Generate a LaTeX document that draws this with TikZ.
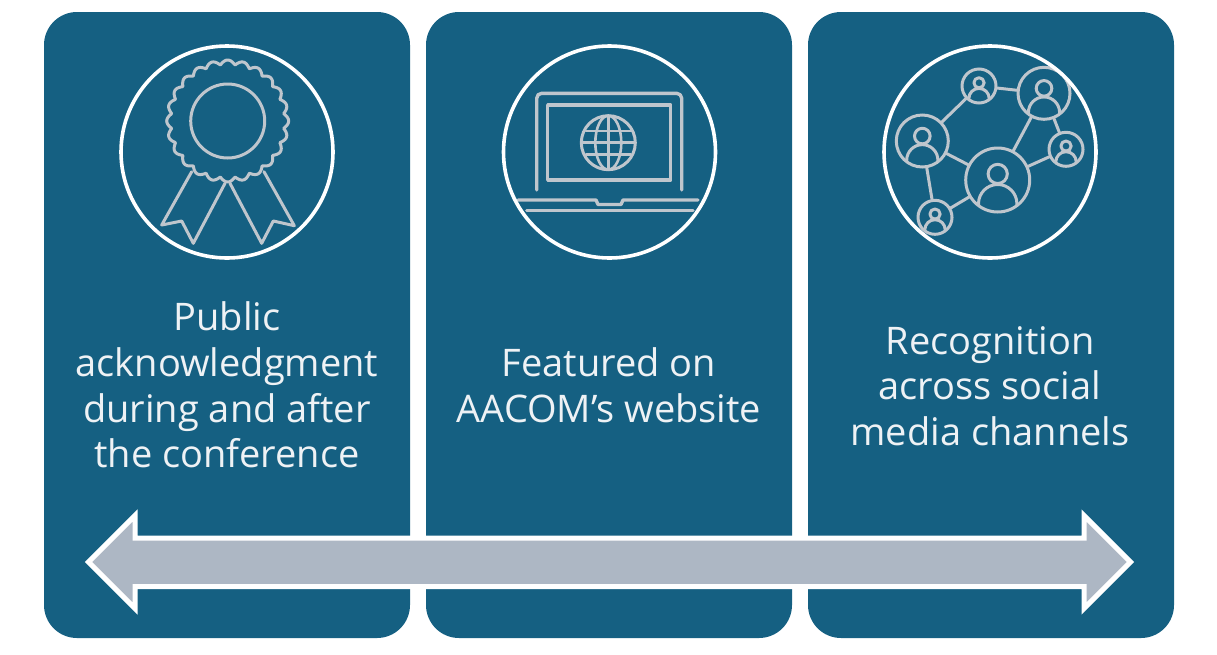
\documentclass[tikz,border=0pt]{standalone}
\usepackage{fontspec}
\setmainfont{Open Sans}
\definecolor{panelblue}{HTML}{156082}
\definecolor{arrowgrey}{HTML}{ADB7C4}
\definecolor{icongrey}{HTML}{BFC6CD}
\definecolor{labelwhite}{HTML}{EEF2F5}
\newcommand{\personicon}[3]{%
  \begin{scope}
    \clip (#1,#2) circle[radius=#3];
    \draw[iconline] (#1,#2-0.19*#3) circle[radius=0.3*#3];
    \draw[iconline] (#1,#2+0.74*#3) circle[radius=0.6*#3];
  \end{scope}}
\tikzset{
  panel/.style={fill=panelblue,draw=none,rounded corners=33pt,minimum width=366pt,minimum height=626pt,inner sep=0pt},
  badge/.style={circle,draw=white,line width=3.6pt,minimum size=212pt,inner sep=0pt},
  iconline/.style={draw=icongrey,line width=3pt,line join=round,line cap=round},
  person/.style={circle,draw=icongrey,line width=3pt,inner sep=0pt,minimum size=#1},
  label/.style={text=labelwhite,align=center,font=\fontsize{38}{45.6}\selectfont,inner sep=0pt},
}
\begin{document}
\begin{tikzpicture}[x=1pt,y=-1pt]
\useasboundingbox (0,0) rectangle (1217,654);
% panels
\node[panel] (p1) at (227,325) {};
\node[panel] (p2) at (609,325) {};
\node[panel] (p3) at (991,325) {};
% rosette
\draw[iconline] plot[domain=0:360,samples=241] ({227.7+(56.5+4.5*abs(cos(12*\x)))*cos(\x)},{121+(56.5+4.5*abs(cos(12*\x)))*sin(\x)}) -- cycle;
\draw[iconline] (227.7,121) circle[radius=37];
\draw[iconline] (191.7,171.7) -- (161.7,225) -- (181.7,221) -- (193.3,243.3) -- (225,183.3);
\draw[iconline] (230,183.3) -- (261.7,243.3) -- (273.3,221) -- (294.3,225.7) -- (264,171.7);
% laptop
\draw[iconline,line width=3.4pt,rounded corners=5pt] (536.7,190) -- (536.7,93.3) -- (681.7,93.3) -- (681.7,190);
\draw[iconline,line width=3.4pt] (547.7,105) rectangle (670.7,180);
\draw[iconline,line width=3.4pt] (518,200) -- (596,200) -- (598,204.5) -- (621,204.5) -- (623,200) -- (698,200);
\draw[iconline,line width=3.4pt] (526.7,210.7) -- (693,210.7);
\draw[iconline] (608.3,142.7) circle[radius=27];
\draw[iconline,line width=2.6pt] (608.3,142.7) ellipse[x radius=13,y radius=27];
\draw[iconline,line width=2.6pt] (608.3,115.7) -- (608.3,169.7);
\draw[iconline,line width=2.6pt] (581.3,142.7) -- (635.3,142.7);
\draw[iconline,line width=2.6pt] (586,131) -- (630.6,131);
\draw[iconline,line width=2.6pt] (586,154.4) -- (630.6,154.4);
% network
\node[person=34pt] (n1) at (979,86) {};
\node[person=52pt] (n2) at (1044,93.3) {};
\node[person=52pt] (n3) at (922.3,141) {};
\node[person=64pt] (n4) at (997.7,180) {};
\node[person=34pt] (n5) at (1066,149.3) {};
\node[person=34pt] (n6) at (935,217.3) {};
\foreach \a/\b in {n1/n2,n1/n3,n2/n4,n2/n5,n3/n4,n3/n6,n4/n5,n4/n6}
  \draw[iconline] (\a) -- (\b);
\personicon{979}{86}{17}
\personicon{1044}{93.3}{26}
\personicon{922.3}{141}{26}
\personicon{997.7}{180}{32}
\personicon{1066}{149.3}{17}
\personicon{935}{217.3}{17}
% badges
\node[badge] (b1) at (227,152) {};
\node[badge] (b2) at (609.5,152) {};
\node[badge] (b3) at (990,152) {};
% labels
\node[label] (t1) at (227,385) {Public\\acknowledgment\\during and after\\the conference};
\node[label] (t2) at (609,385) {Featured on\\AACOM’s website};
\node[label] (t3) at (990,386) {Recognition\\across social\\media channels};
% arrow
\draw[fill=arrowgrey,draw=white,line width=5pt,miter limit=10]
  (88.5,562) -- (135,515.5) -- (135,538) -- (1084,538) -- (1084,515.5) -- (1130.5,562)
  -- (1084,608.5) -- (1084,586.5) -- (135,586.5) -- (135,608.5) -- cycle;
\end{tikzpicture}
\end{document}
